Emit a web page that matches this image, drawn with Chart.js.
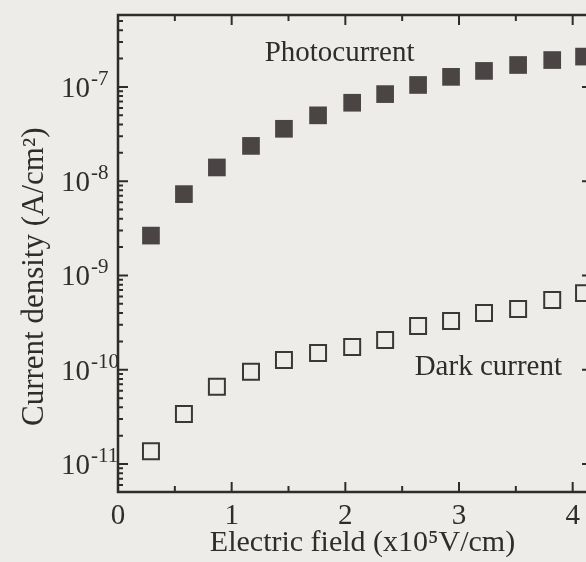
<!DOCTYPE html>
<html>
<head>
<meta charset="utf-8">
<script src="https://cdn.jsdelivr.net/npm/chart.js@4/dist/chart.umd.min.js"></script>
<style>
  html, body { margin: 0; padding: 0; overflow: hidden; background: #eeece8; }
  #fig { display: block; }
</style>
</head>
<body>
<canvas id="fig" width="610" height="562"></canvas>
<script>
// electric field, x10^5 V/cm
var field = [0.29, 0.58, 0.87, 1.17, 1.46, 1.76, 2.06, 2.35, 2.64, 2.93, 3.22, 3.52, 3.82, 4.10];
// current density, A/cm^2
var photocurrent = [2.65e-9, 7.3e-9, 1.4e-8, 2.37e-8, 3.6e-8, 5.0e-8, 6.8e-8, 8.4e-8, 1.05e-7, 1.28e-7, 1.48e-7, 1.71e-7, 1.93e-7, 2.1e-7];
var darkCurrent = [1.37e-11, 3.4e-11, 6.6e-11, 9.5e-11, 1.27e-10, 1.51e-10, 1.74e-10, 2.07e-10, 2.91e-10, 3.29e-10, 4.0e-10, 4.41e-10, 5.5e-10, 6.5e-10];

var xMajor = [0, 1, 2, 3, 4];
var xMinor = [0.5, 1.5, 2.5, 3.5];
var yDecades = [1e-11, 1e-10, 1e-9, 1e-8, 1e-7];

var curveNames = ['Photocurrent', 'Dark current'];
var nameAtX = [1.29, 2.61];
var nameAtY = [1.89e-7, 8.8e-11];

var serif = "'Liberation Serif', 'DejaVu Serif', serif";
var ink = '#2f2d2c';

function sup(s) {
  var map = {'-': '\u207B', '0': '\u2070', '1': '\u00B9', '2': '\u00B2', '3': '\u00B3', '4': '\u2074',
    '5': '\u2075', '6': '\u2076', '7': '\u2077', '8': '\u2078', '9': '\u2079'};
  return String(s).split('').map(function (c) { return map[c]; }).join('');
}

// frame with inward tick marks on all four sides, power-of-ten labels, curve names
var frameTicks = {
  id: 'frameTicks',
  beforeDatasetsDraw: function (chart) {
    var ctx = chart.ctx, a = chart.chartArea, x = chart.scales.x, y = chart.scales.y;
    ctx.save();
    ctx.strokeStyle = ink;
    ctx.lineWidth = 2.5;
    ctx.strokeRect(a.left, a.top, a.right - a.left, a.bottom - a.top);
    ctx.lineWidth = 2;
    ctx.beginPath();
    function xt(v, len) {
      var px = x.getPixelForValue(v);
      ctx.moveTo(px, a.bottom); ctx.lineTo(px, a.bottom - len);
      ctx.moveTo(px, a.top); ctx.lineTo(px, a.top + len);
    }
    function yt(v, len) {
      var py = y.getPixelForValue(v);
      ctx.moveTo(a.left, py); ctx.lineTo(a.left + len, py);
      ctx.moveTo(a.right, py); ctx.lineTo(a.right - len, py);
    }
    xMajor.forEach(function (v) { xt(v, 10); });
    xMinor.forEach(function (v) { xt(v, 6); });
    yDecades.forEach(function (v) { yt(v, 10); });
    for (var e = -12; e <= -7; e++) {
      for (var m = 2; m <= 9; m++) {
        var v = m * Math.pow(10, e);
        if (v > y.min && v < y.max) yt(v, 5);
      }
    }
    ctx.stroke();

    // y tick labels: 10 with raised exponent
    ctx.fillStyle = ink;
    ctx.textBaseline = 'alphabetic';
    yDecades.forEach(function (v) {
      var py = y.getPixelForValue(v);
      var ex = Math.round(Math.log10(v));
      ctx.font = '29px ' + serif;
      ctx.textAlign = 'right';
      ctx.fillText('10', a.left - 28, py + 10);
      ctx.font = '21px ' + serif;
      ctx.textAlign = 'left';
      ctx.fillText(String(ex), a.left - 27, py - 2);
    });
    ctx.restore();
  },
  afterDatasetsDraw: function (chart) {
    var ctx = chart.ctx, x = chart.scales.x, y = chart.scales.y;
    ctx.save();
    ctx.fillStyle = ink;
    ctx.font = '29px ' + serif;
    ctx.textAlign = 'left';
    ctx.textBaseline = 'alphabetic';
    curveNames.forEach(function (t, i) {
      ctx.fillText(t, x.getPixelForValue(nameAtX[i]), y.getPixelForValue(nameAtY[i]));
    });
    ctx.restore();
  }
};

new Chart(document.getElementById('fig'), {
  type: 'scatter',
  data: {
    datasets: [{
      label: curveNames[0],
      data: field.map(function (f, i) { return {x: f, y: photocurrent[i]}; }),
      pointStyle: 'rect',
      pointRadius: 12.5,
      backgroundColor: '#4a4544',
      borderColor: '#4a4544',
      borderWidth: 0
    }, {
      label: curveNames[1],
      data: field.map(function (f, i) { return {x: f, y: darkCurrent[i]}; }),
      pointStyle: 'rect',
      pointRadius: 11.3,
      backgroundColor: 'rgba(0,0,0,0)',
      borderColor: '#3a3837',
      borderWidth: 2
    }]
  },
  options: {
    responsive: false,
    animation: false,
    layout: { padding: { left: 0, top: 15, right: 18, bottom: 0 } },
    plugins: { legend: { display: false }, tooltip: { enabled: false } },
    scales: {
      x: {
        type: 'linear',
        min: 0,
        max: 4.17,
        afterBuildTicks: function (s) { s.ticks = xMajor.map(function (v) { return {value: v}; }); },
        afterFit: function (s) { s.height = 70; },
        grid: { display: false, drawTicks: false },
        border: { display: false },
        ticks: { color: ink, padding: 7, maxRotation: 0, font: { family: serif, size: 29 } },
        title: {
          display: true,
          text: '\u2002Electric field (x10' + sup(5) + 'V/cm)',
          color: ink,
          padding: { top: 0, bottom: 1 },
          font: { family: serif, size: 30 }
        }
      },
      y: {
        type: 'logarithmic',
        min: 5.05e-12,
        max: 5.8e-7,
        afterBuildTicks: function (s) { s.ticks = yDecades.map(function (v) { return {value: v}; }); },
        afterFit: function (s) { s.width = 118; },
        grid: { display: false, drawTicks: false },
        border: { display: false },
        ticks: { display: false },
        title: {
          display: true,
          text: 'Current density (A/cm' + sup(2) + ')\u2002\u2002\u2002',
          color: ink,
          padding: { top: 16, bottom: 0 },
          font: { family: serif, size: 31 }
        }
      }
    }
  },
  plugins: [frameTicks]
});
</script>
</body>
</html>
